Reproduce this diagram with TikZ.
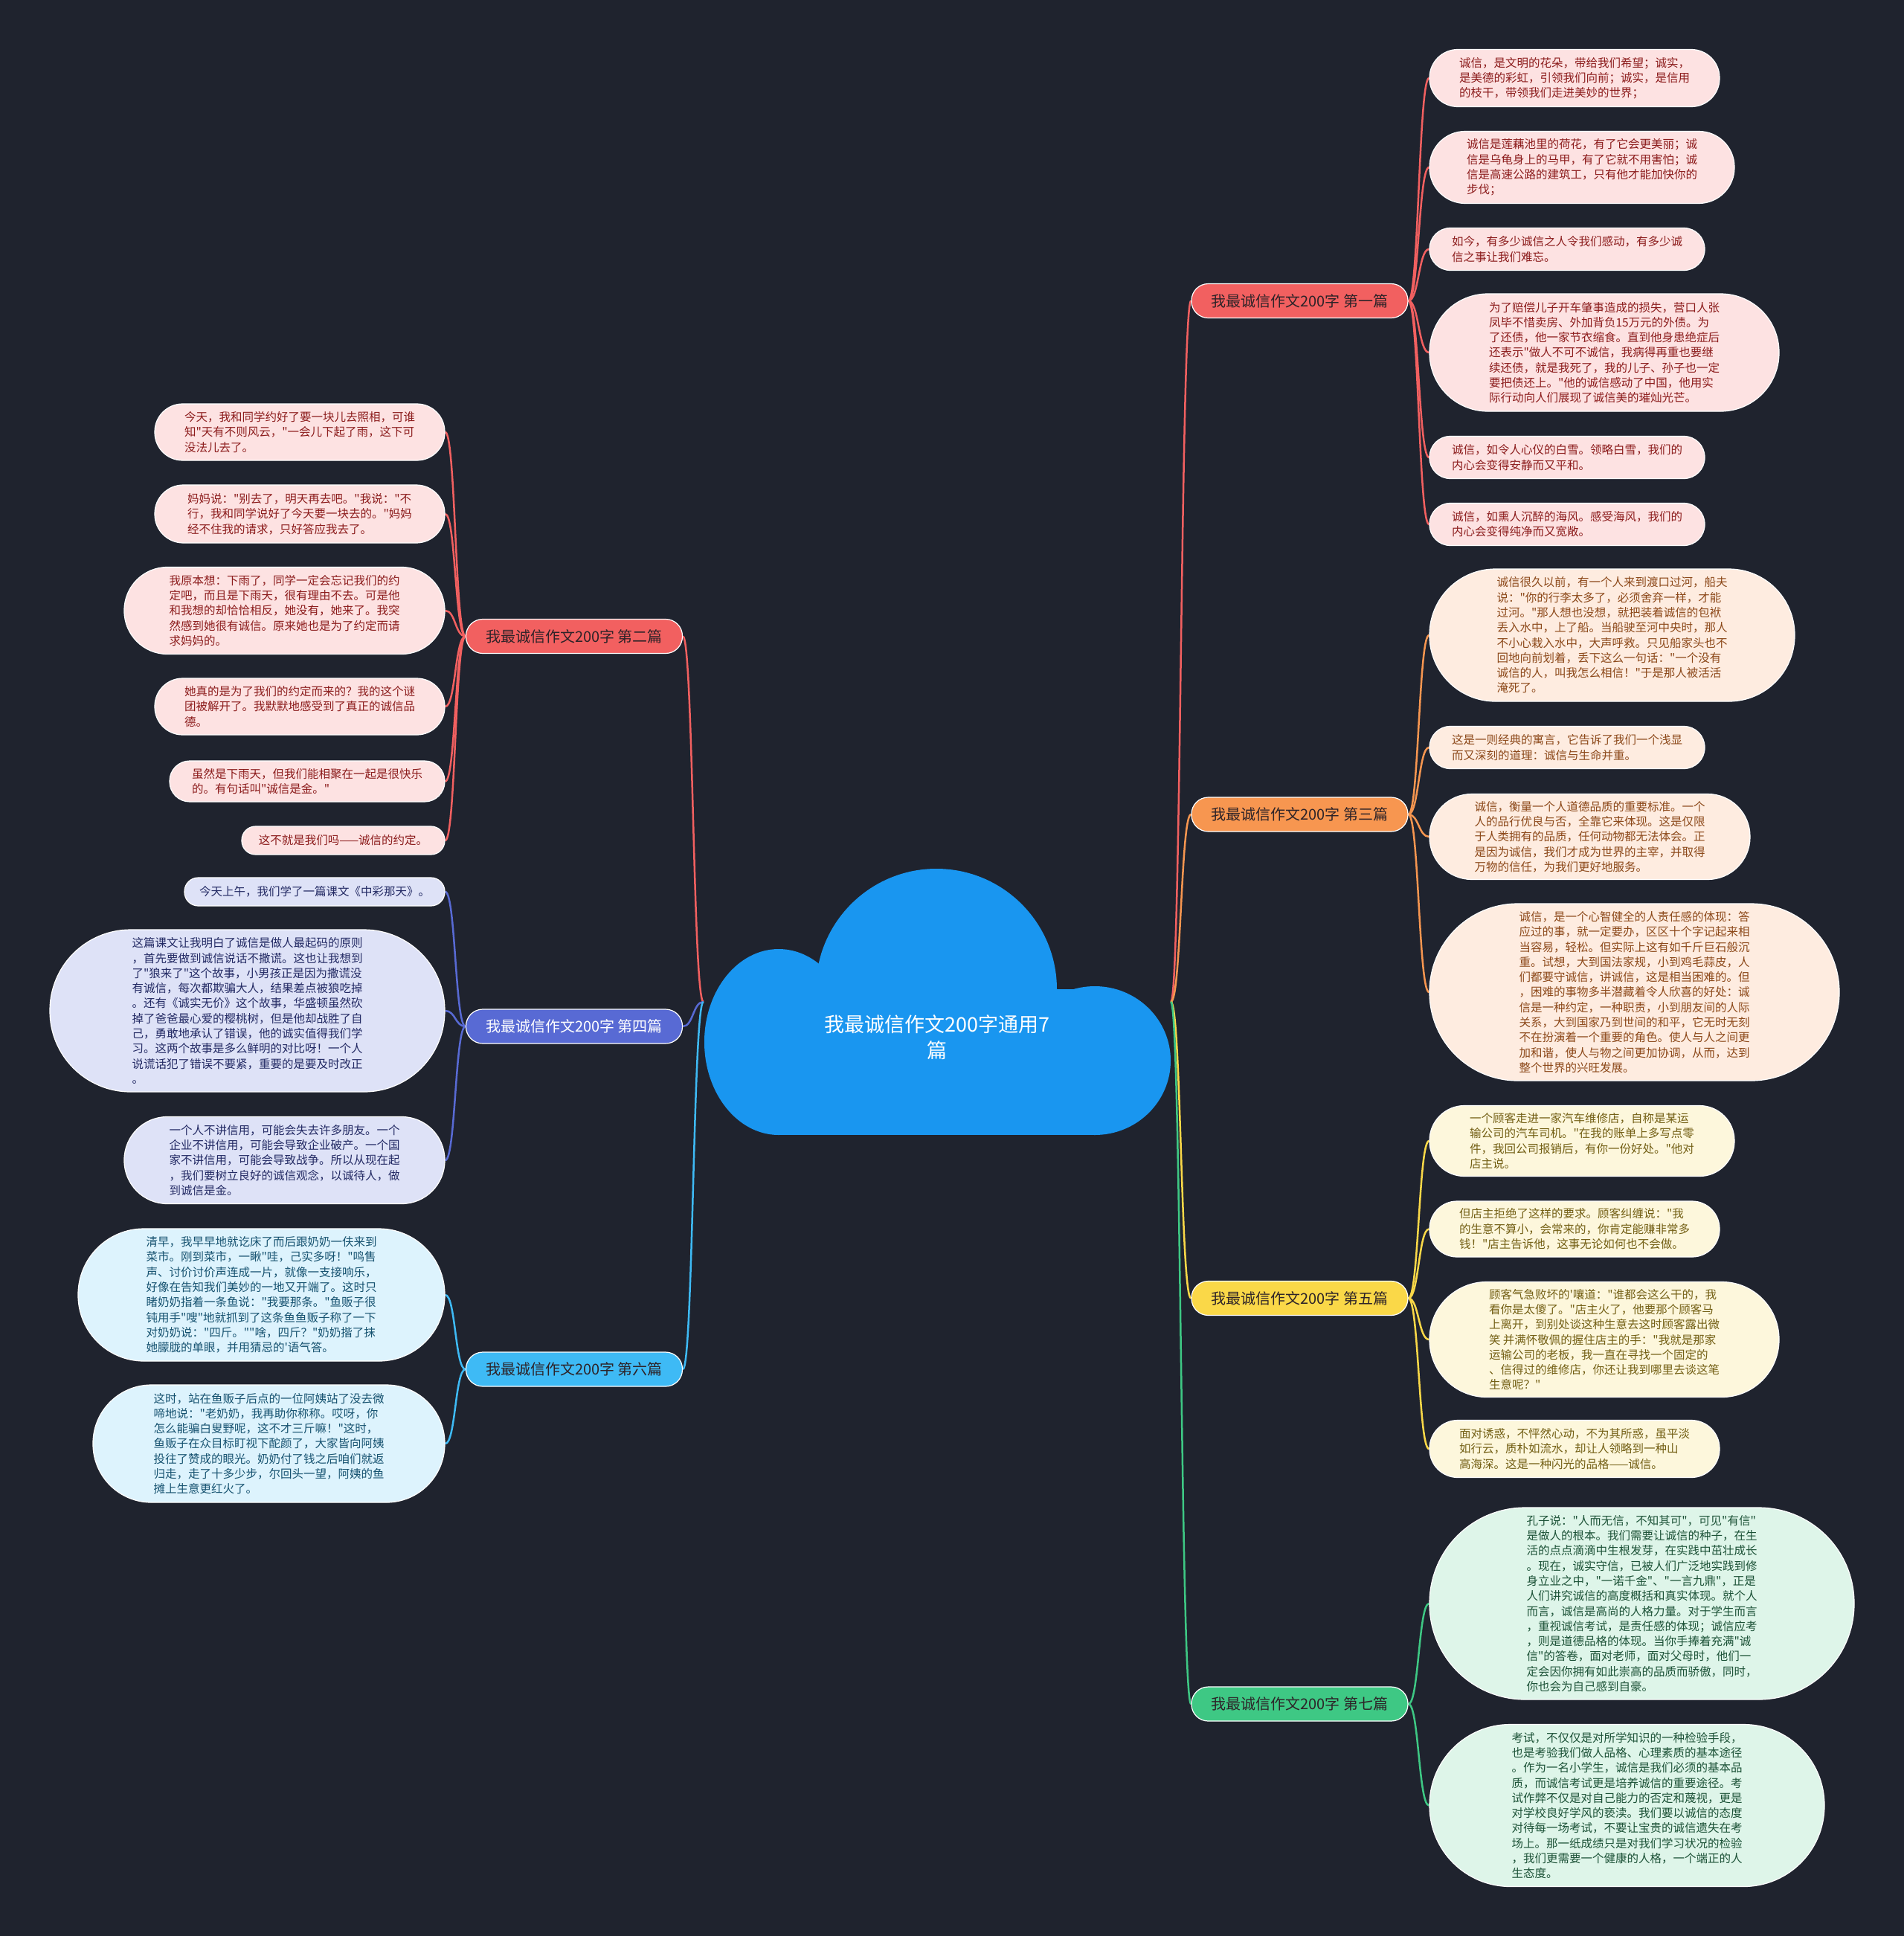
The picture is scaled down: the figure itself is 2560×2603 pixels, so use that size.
\documentclass[tikz,border=0pt]{standalone}
\usepackage{fontspec}
\newfontfamily\cjk{Noto Sans CJK SC}
\pgfdeclarelayer{back}
\pgfdeclarelayer{links}
\pgfsetlayers{back,links,main}
\definecolor{bgc}{RGB}{31,35,46}
\definecolor{cloudc}{RGB}{25,150,240}
\definecolor{redc}{RGB}{242,96,96}
\definecolor{orac}{RGB}{247,150,80}
\definecolor{indc}{RGB}{88,106,212}
\definecolor{yelc}{RGB}{250,216,72}
\definecolor{skyc}{RGB}{62,186,245}
\definecolor{grnc}{RGB}{62,200,132}
\definecolor{redl}{RGB}{253,226,226}
\definecolor{oral}{RGB}{254,236,224}
\definecolor{indl}{RGB}{222,226,247}
\definecolor{yell}{RGB}{253,247,220}
\definecolor{skyl}{RGB}{221,243,253}
\definecolor{grnl}{RGB}{222,245,233}
\definecolor{redt}{RGB}{140,28,28}
\definecolor{orat}{RGB}{140,72,25}
\definecolor{indt}{RGB}{35,42,100}
\definecolor{yelt}{RGB}{115,95,20}
\definecolor{skyt}{RGB}{22,82,112}
\definecolor{grnt}{RGB}{28,82,55}
\definecolor{brt}{RGB}{45,35,40}
\tikzset{
  leaf/.style={draw=white, line width=1.2, inner sep=0, align=left,
    font=\cjk\fontsize{15.5}{20.3}\selectfont},
  leafA/.style={leaf, fill=redl, text=redt},
  leafB/.style={leaf, fill=oral, text=orat},
  leafC/.style={leaf, fill=indl, text=indt},
  leafD/.style={leaf, fill=yell, text=yelt},
  leafE/.style={leaf, fill=skyl, text=skyt},
  leafF/.style={leaf, fill=grnl, text=grnt},
  branch/.style={draw=white, line width=1.2, inner sep=0, minimum width=291,
    minimum height=46, rounded corners=22.5, font=\cjk\fontsize{20}{24}\selectfont, text=brt},
  link/.style={line width=2.5},
  rtext/.style={font=\cjk\fontsize{27}{35}\selectfont, text=white, align=center, inner sep=0},
}
\begin{document}
\begin{tikzpicture}[x=1pt, y=-1pt]
\useasboundingbox (0,0) rectangle (2560,2603);
\begin{pgfonlayer}{back}
\fill[bgc] (0,0) rectangle (2560,2603);
\end{pgfonlayer}

% central cloud
\fill[cloudc] (1047,1401) ellipse [x radius=100, y radius=125];
\fill[cloudc] (1259,1330) circle [radius=162];
\fill[cloudc] (1472,1426) ellipse [x radius=102, y radius=100];
\fill[cloudc] (1047,1330) rectangle (1472,1526);
\node[inner sep=0, minimum width=628, minimum height=358] (root) at (1260,1347) {};
\node[rtext] (roottext) at (1260,1394.5) {我最诚信作文200字通用7\\篇};

% branches
\node[branch, fill=redc] (b1) at (1747.5,404.5) {我最诚信作文200字 第一篇};
\node[branch, fill=orac] (b3) at (1747.5,1095) {我最诚信作文200字 第三篇};
\node[branch, fill=yelc] (b5) at (1747.5,1745.5) {我最诚信作文200字 第五篇};
\node[branch, fill=grnc] (b7) at (1747.5,2291) {我最诚信作文200字 第七篇};
\node[branch, fill=redc] (b2) at (772,855.5) {我最诚信作文200字 第二篇};
\node[branch, fill=indc, text=white] (b4) at (772,1380) {我最诚信作文200字 第四篇};
\node[branch, fill=skyc] (b6) at (772,1841) {我最诚信作文200字 第六篇};

% leaves of 第一篇
\node[leafA, minimum width=390, minimum height=77, rounded corners=38] (a1) at (2117,105) {诚信，是文明的花朵，带给我们希望；诚实，\\是美德的彩虹，引领我们向前；诚实，是信用\\的枝干，带领我们走进美妙的世界；};
\node[leafA, minimum width=410, minimum height=97, rounded corners=48] (a2) at (2127,225) {诚信是莲藕池里的荷花，有了它会更美丽；诚\\信是乌龟身上的马甲，有了它就不用害怕；诚\\信是高速公路的建筑工，只有他才能加快你的\\步伐；};
\node[leafA, minimum width=370, minimum height=57, rounded corners=28] (a3) at (2107,335) {如今，有多少诚信之人令我们感动，有多少诚\\信之事让我们难忘。};
\node[leafA, minimum width=470, minimum height=158, rounded corners=78.5] (a4) at (2157,474) {为了赔偿儿子开车肇事造成的损失，营口人张\\凤毕不惜卖房、外加背负15万元的外债。为\\了还债，他一家节衣缩食。直到他身患绝症后\\还表示"做人不可不诚信，我病得再重也要继\\续还债，就是我死了，我的儿子、孙子也一定\\要把债还上。"他的诚信感动了中国，他用实\\际行动向人们展现了诚信美的璀灿光芒。};
\node[leafA, minimum width=370, minimum height=57, rounded corners=28] (a5) at (2107,615) {诚信，如令人心仪的白雪。领略白雪，我们的\\内心会变得安静而又平和。};
\node[leafA, minimum width=370, minimum height=57, rounded corners=28] (a6) at (2107,705) {诚信，如熏人沉醉的海风。感受海风，我们的\\内心会变得纯净而又宽敞。};

% leaves of 第三篇
\node[leafB, minimum width=491, minimum height=178, rounded corners=88.5] (c1) at (2167.5,854) {诚信很久以前，有一个人来到渡口过河，船夫\\说："你的行李太多了，必须舍弃一样，才能\\过河。"那人想也没想，就把装着诚信的包袱\\丢入水中，上了船。当船驶至河中央时，那人\\不小心栽入水中，大声呼救。只见船家头也不\\回地向前划着，丢下这么一句话："一个没有\\诚信的人，叫我怎么相信！"于是那人被活活\\淹死了。};
\node[leafB, minimum width=370, minimum height=57, rounded corners=28] (c2) at (2107,1005) {这是一则经典的寓言，它告诉了我们一个浅显\\而又深刻的道理：诚信与生命并重。};
\node[leafB, minimum width=431, minimum height=115, rounded corners=57] (c3) at (2137.5,1125) {诚信，衡量一个人道德品质的重要标准。一个\\人的品行优良与否，全靠它来体现。这是仅限\\于人类拥有的品质，任何动物都无法体会。正\\是因为诚信，我们才成为世界的主宰，并取得\\万物的信任，为我们更好地服务。};
\node[leafB, minimum width=551, minimum height=238, rounded corners=118.5] (c4) at (2197.5,1334) {诚信，是一个心智健全的人责任感的体现：答\\应过的事，就一定要办，区区十个字记起来相\\当容易，轻松。但实际上这有如千斤巨石般沉\\重。试想，大到国法家规，小到鸡毛蒜皮，人\\们都要守诚信，讲诚信，这是相当困难的。但\\，困难的事物多半潜藏着令人欣喜的好处：诚\\信是一种约定，一种职责，小到朋友间的人际\\关系，大到国家乃到世间的和平，它无时无刻\\不在扮演着一个重要的角色。使人与人之间更\\加和谐，使人与物之间更加协调，从而，达到\\整个世界的兴旺发展。};

% leaves of 第五篇
\node[leafD, minimum width=410, minimum height=95, rounded corners=47] (e1) at (2127,1534) {一个顾客走进一家汽车维修店，自称是某运\\输公司的汽车司机。"在我的账单上多写点零\\件，我回公司报销后，有你一份好处。"他对\\店主说。};
\node[leafD, minimum width=390, minimum height=75, rounded corners=37] (e2) at (2117,1652.5) {但店主拒绝了这样的要求。顾客纠缠说："我\\的生意不算小，会常来的，你肯定能赚非常多\\钱！"店主告诉他，这事无论如何也不会做。};
\node[leafD, minimum width=470, minimum height=155, rounded corners=77] (e3) at (2157,1801) {顾客气急败坏的'嚷道："谁都会这么干的，我\\看你是太傻了。"店主火了，他要那个顾客马\\上离开，到别处谈这种生意去这时顾客露出微\\笑 并满怀敬佩的握住店主的手："我就是那家\\运输公司的老板，我一直在寻找一个固定的\\、信得过的维修店，你还让我到哪里去谈这笔\\生意呢？"};
\node[leafD, minimum width=390, minimum height=77, rounded corners=38] (e4) at (2117,1948) {面对诱惑，不怦然心动，不为其所惑，虽平淡\\如行云，质朴如流水，却让人领略到一种山\\高海深。这是一种闪光的品格——诚信。};

% leaves of 第七篇
\node[leafF, minimum width=571, minimum height=258, rounded corners=128.5] (g1) at (2207.5,2156) {孔子说："人而无信，不知其可"，可见"有信"\\是做人的根本。我们需要让诚信的种子，在生\\活的点点滴滴中生根发芽，在实践中茁壮成长\\。现在，诚实守信，已被人们广泛地实践到修\\身立业之中，"一诺千金"、"一言九鼎"，正是\\人们讲究诚信的高度概括和真实体现。就个人\\而言，诚信是高尚的人格力量。对于学生而言\\，重视诚信考试，是责任感的体现；诚信应考\\，则是道德品格的体现。当你手捧着充满"诚\\信"的答卷，面对老师，面对父母时，他们一\\定会因你拥有如此崇高的品质而骄傲，同时，\\你也会为自己感到自豪。};
\node[leafF, minimum width=531, minimum height=218, rounded corners=108.5] (g2) at (2187.5,2427.5) {考试，不仅仅是对所学知识的一种检验手段，\\也是考验我们做人品格、心理素质的基本途径\\。作为一名小学生，诚信是我们必须的基本品\\质，而诚信考试更是培养诚信的重要途径。考\\试作弊不仅是对自己能力的否定和蔑视，更是\\对学校良好学风的亵渎。我们要以诚信的态度\\对待每一场考试，不要让宝贵的诚信遗失在考\\场上。那一纸成绩只是对我们学习状况的检验\\，我们更需要一个健康的人格，一个端正的人\\生态度。};

% leaves of 第二篇
\node[leafA, minimum width=390, minimum height=76, rounded corners=37.5] (d1) at (403,581) {今天，我和同学约好了要一块儿去照相，可谁\\知"天有不则风云，"一会儿下起了雨，这下可\\没法儿去了。};
\node[leafA, minimum width=390, minimum height=78, rounded corners=38.5] (d2) at (403,691) {妈妈说："别去了，明天再去吧。"我说："不\\行，我和同学说好了今天要一块去的。"妈妈\\经不住我的请求，只好答应我去了。};
\node[leafA, minimum width=431, minimum height=117, rounded corners=58] (d3) at (382.5,821) {我原本想：下雨了，同学一定会忘记我们的约\\定吧，而且是下雨天，很有理由不去。可是他\\和我想的却恰恰相反，她没有，她来了。我突\\然感到她很有诚信。原来她也是为了约定而请\\求妈妈的。};
\node[leafA, minimum width=390, minimum height=76, rounded corners=37.5] (d4) at (403,950) {她真的是为了我们的约定而来的？我的这个谜\\团被解开了。我默默地感受到了真正的诚信品\\德。};
\node[leafA, minimum width=370, minimum height=55, rounded corners=27] (d5) at (413,1050.5) {虽然是下雨天，但我们能相聚在一起是很快乐\\的。有句话叫"诚信是金。"};
\node[leafA, minimum width=273, minimum height=38, rounded corners=18.5] (d6) at (461.5,1130) {这不就是我们吗——诚信的约定。};

% leaves of 第四篇
\node[leafC, minimum width=350, minimum height=38, rounded corners=18.5] (f1) at (423,1199) {今天上午，我们学了一篇课文《中彩那天》。};
\node[leafC, minimum width=531, minimum height=218, rounded corners=108.5] (f2) at (332.5,1359) {这篇课文让我明白了诚信是做人最起码的原则\\，首先要做到诚信说话不撒谎。这也让我想到\\了"狼来了"这个故事，小男孩正是因为撒谎没\\有诚信，每次都欺骗大人，结果差点被狼吃掉\\。还有《诚实无价》这个故事，华盛顿虽然砍\\掉了爸爸最心爱的樱桃树，但是他却战胜了自\\己，勇敢地承认了错误，他的诚实值得我们学\\习。这两个故事是多么鲜明的对比呀！一个人\\说谎话犯了错误不要紧，重要的是要及时改正\\。};
\node[leafC, minimum width=431, minimum height=117, rounded corners=58] (f3) at (382.5,1560) {一个人不讲信用，可能会失去许多朋友。一个\\企业不讲信用，可能会导致企业破产。一个国\\家不讲信用，可能会导致战争。所以从现在起\\，我们要树立良好的诚信观念，以诚待人，做\\到诚信是金。};

% leaves of 第六篇
\node[leafE, minimum width=493, minimum height=178, rounded corners=88.5] (h1) at (351.5,1741) {清早，我早早地就讫床了而后跟奶奶一伕来到\\菜市。刚到菜市，一瞅"哇，己实多呀！"鸣售\\声、讨价讨价声连成一片，就像一支接响乐，\\好像在告知我们美妙的一地又开端了。这时只\\睹奶奶指着一条鱼说："我要那条。"鱼贩子很\\钝用手"嗖"地就抓到了这条鱼鱼贩子称了一下\\对奶奶说："四斤。""啥，四斤？"奶奶揩了抹\\她朦胧的单眼，并用猜忌的'语气答。};
\node[leafE, minimum width=473, minimum height=158, rounded corners=78.5] (h2) at (361.5,1941) {这时，站在鱼贩子后点的一位阿姨站了没去微\\啼地说："老奶奶，我再助你称称。哎呀，你\\怎么能骗白叟野呢，这不才三斤嘛！"这时，\\鱼贩子在众目标盯视下酡颜了，大家皆向阿姨\\投往了赞成的眼光。奶奶付了钱之后咱们就返\\归走，走了十多少步，尔回头一望，阿姨的鱼\\摊上生意更红火了。};

\begin{pgfonlayer}{links}
% root to branches
\draw[link, redc] (root.east) .. controls +(14,0) and +(-14,0) .. (b1.west);
\draw[link, orac] (root.east) .. controls +(14,0) and +(-14,0) .. (b3.west);
\draw[link, yelc] (root.east) .. controls +(14,0) and +(-14,0) .. (b5.west);
\draw[link, grnc] (root.east) .. controls +(14,0) and +(-14,0) .. (b7.west);
\draw[link, redc] (root.west) .. controls +(-14,0) and +(14,0) .. (b2.east);
\draw[link, indc] (root.west) .. controls +(-14,0) and +(14,0) .. (b4.east);
\draw[link, skyc] (root.west) .. controls +(-14,0) and +(14,0) .. (b6.east);
% branch to leaves
\foreach \l in {a1,a2,a3,a4,a5,a6}
  \draw[link, redc] (b1.east) .. controls +(14,0) and +(-14,0) .. (\l.west);
\foreach \l in {c1,c2,c3,c4}
  \draw[link, orac] (b3.east) .. controls +(14,0) and +(-14,0) .. (\l.west);
\foreach \l in {e1,e2,e3,e4}
  \draw[link, yelc] (b5.east) .. controls +(14,0) and +(-14,0) .. (\l.west);
\foreach \l in {g1,g2}
  \draw[link, grnc] (b7.east) .. controls +(14,0) and +(-14,0) .. (\l.west);
\foreach \l in {d1,d2,d3,d4,d5,d6}
  \draw[link, redc] (b2.west) .. controls +(-14,0) and +(14,0) .. (\l.east);
\foreach \l in {f1,f2,f3}
  \draw[link, indc] (b4.west) .. controls +(-14,0) and +(14,0) .. (\l.east);
\foreach \l in {h1,h2}
  \draw[link, skyc] (b6.west) .. controls +(-14,0) and +(14,0) .. (\l.east);
\end{pgfonlayer}
\end{tikzpicture}
\end{document}
